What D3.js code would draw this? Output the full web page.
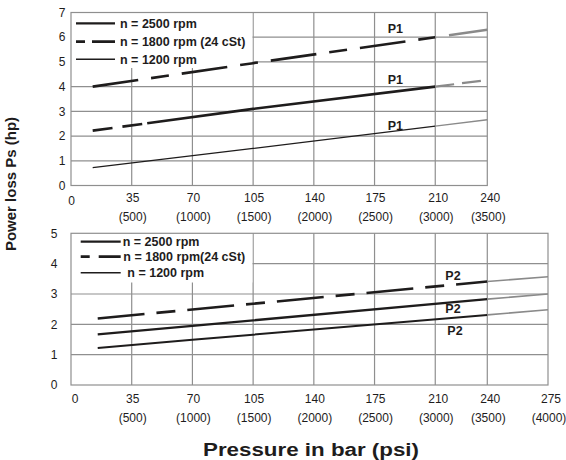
<!DOCTYPE html>
<html><head><meta charset="utf-8">
<script src="https://cdn.jsdelivr.net/npm/d3@7"></script>
<style>
html,body{margin:0;padding:0;background:#fff;}
svg{display:block;font-family:"Liberation Sans",Arial,sans-serif;}
</style></head>
<body><svg id="c" width="566" height="460"></svg>
<script>
// ---------- data ----------
const barTicks = [0, 35, 70, 105, 140, 175, 210, 240, 275];
const psiTicks = ["", "(500)", "(1000)", "(1500)", "(2000)", "(2500)", "(3000)", "(3500)", "(4000)"];
const p1HpTicks = [0, 1, 2, 3, 4, 5, 6, 7];
const p2HpTicks = [0, 1, 2, 3, 4, 5];
const legendTop = ["n = 2500 rpm", "n = 1800 rpm (24 cSt)", "n = 1200 rpm"];
const legendBottom = ["n = 2500 rpm", "n = 1800 rpm(24 cSt)", "n = 1200 rpm"];

// P1 (upper chart): pressure (bar) and power loss (hp)
const p1Bar = [12.5, 105, 210, 240];
const p1Dashed = [4.0, 4.95, 6.0, 6.3];
const p1Thick = [2.22, 3.1, 4.0, 4.27];
const p1Thin = [0.72, 1.5, 2.4, 2.66];
const p1Limit = 210;

// P2 (lower chart)
const p2Bar = [15.4, 70, 240, 275];
const p2Dashed = [2.19, 2.49, 3.41, 3.57];
const p2Thick = [1.67, 1.95, 2.83, 3.0];
const p2Thin = [1.22, 1.49, 2.31, 2.48];
const p2Limit = 240;

// ---------- drawing ----------
const svg = d3.select("#c");
const INK = "#1e1c1c", GRID = "#8f8f8f", GRAY = "#8a8a8a";
const x = d3.scaleLinear().domain([0, 275]).range([71, 548]);

function chart(cfg) {
  const y = d3.scaleLinear().domain([0, cfg.ymax]).range([cfg.bottom, cfg.top]);
  const g = svg.append("g");
  const x0 = x(0), x1 = x(cfg.xmax);
  // grid
  g.selectAll(".vg").data(barTicks.filter(d => d > 0 && d < cfg.xmax)).join("line")
    .attr("x1", d => x(d)).attr("x2", d => x(d)).attr("y1", y(cfg.ymax)).attr("y2", y(0))
    .attr("stroke", GRID).attr("stroke-width", 1.2);
  g.selectAll(".hg").data(cfg.yticks.filter(d => d > 0 && d < cfg.ymax)).join("line")
    .attr("x1", x0).attr("x2", x1).attr("y1", d => y(d)).attr("y2", d => y(d))
    .attr("stroke", GRID).attr("stroke-width", 1.2);
  // legend background
  g.append("rect").attr("x", x0).attr("y", y(cfg.ymax))
    .attr("width", x(105) - 0.7 - x0).attr("height", cfg.legendBottom - y(cfg.ymax))
    .attr("fill", "#fff");
  // frame
  g.append("rect").attr("x", x0).attr("y", y(cfg.ymax)).attr("width", x1 - x0)
    .attr("height", y(0) - y(cfg.ymax)).attr("fill", "none").attr("stroke", GRID).attr("stroke-width", 1.2);

  // y tick labels
  g.selectAll(".yl").data(cfg.yticks).join("text")
    .attr("x", cfg.yLabelX).attr("y", d => y(d)).attr("dy", "0.35em")
    .attr("text-anchor", "middle").attr("font-size", 12).attr("fill", INK).text(d => d);
  // x tick labels
  const xt = barTicks.map((d, i) => ({ d, i })).filter(o => o.d <= cfg.xmax);
  g.selectAll(".xl").data(xt).join("text")
    .attr("x", o => x(o.d) + (o.d === 0 ? cfg.zeroShift : (o.d >= 210 ? 3 : 1)))
    .attr("y", o => cfg.barLabelY + (o.d === 0 ? cfg.zeroDy : 0)).attr("dy", "0.35em")
    .attr("text-anchor", "middle").attr("font-size", 12).attr("fill", INK).text(o => o.d);
  g.selectAll(".pl").data(xt.filter(o => o.d > 0)).join("text")
    .attr("x", o => x(o.d) + 1).attr("y", cfg.psiLabelY).attr("dy", "0.35em")
    .attr("text-anchor", "middle").attr("font-size", 12).attr("fill", INK).text(o => psiTicks[o.i]);

  // curves
  const line = d3.line().x(d => x(d[0])).y(d => y(d[1]));
  cfg.series.forEach(s => {
    const pts = cfg.bars.map((b, i) => [b, s.values[i]]);
    const black = pts.filter(p => p[0] <= cfg.limit);
    const gray = pts.filter(p => p[0] >= cfg.limit);
    const bp = g.append("path").attr("d", line(black)).attr("fill", "none")
      .attr("stroke", INK).attr("stroke-width", s.w).attr("stroke-dasharray", s.dash || null);
    const gp = g.append("path").attr("d", line(gray)).attr("fill", "none")
      .attr("stroke", GRAY).attr("stroke-width", s.gw || s.w).attr("stroke-dasharray", s.gdash || null);
    if (s.continueDash) gp.attr("stroke-dashoffset", bp.node().getTotalLength());
    // label
    const lx = x(cfg.labelBar) + (s.lxOff || 0);
    const ly = y(d3.scaleLinear().domain(cfg.bars).range(s.values)(cfg.labelBar)) + s.lyOff;
    g.append("text").attr("x", lx).attr("y", ly).attr("dy", "0.35em").attr("text-anchor", "middle")
      .attr("font-size", 12.5).attr("font-weight", "bold").attr("fill", INK).text(cfg.label);
  });

  // legend
  const lg = g.selectAll(".lg").data(cfg.legend).join("g");
  lg.append("line").attr("x1", cfg.lgX1).attr("x2", cfg.lgX2)
    .attr("y1", (d, i) => cfg.lgRows[i]).attr("y2", (d, i) => cfg.lgRows[i])
    .attr("stroke", INK).attr("stroke-width", (d, i) => cfg.lgW[i])
    .attr("stroke-dasharray", (d, i) => i === 1 ? cfg.lgDash : null);
  lg.append("text").attr("x", (d, i) => cfg.lgTX[i]).attr("y", (d, i) => cfg.lgRows[i]).attr("dy", "0.36em")
    .attr("font-size", 12.5).attr("font-weight", "bold").attr("fill", INK).text(d => d);
}

chart({
  ymax: 7, top: 12.5, bottom: 185.5, xmax: 240, yticks: p1HpTicks, legendBottom: 68,
  yLabelX: 62, barLabelY: 198, psiLabelY: 217, zeroShift: 0.5, zeroDy: 3,
  bars: p1Bar, limit: p1Limit, label: "P1", labelBar: 187,
  series: [
    { values: p1Dashed, w: 2.6, dash: "46,13,18,13", gdash: "46,13,18,13", continueDash: true, lyOff: -14 },
    { values: p1Thick, w: 2.6, dash: "20,10,20,5,2000", gdash: "19,8", gw: 2.2, lyOff: -12 },
    { values: p1Thin, w: 1.3, lyOff: -5 }
  ],
  legend: legendTop, lgX1: 76, lgX2: 115, lgRows: [23.3, 41.7, 59.3], lgW: [2.2, 2.8, 1.4],
  lgDash: "9,7,30", lgTX: [120, 120, 120]
});

chart({
  ymax: 5, top: 233.3, bottom: 385, xmax: 275, yticks: p2HpTicks, legendBottom: 282.5,
  yLabelX: 54, barLabelY: 399, psiLabelY: 417.5, zeroShift: 4, zeroDy: 0,
  bars: p2Bar, limit: p2Limit, label: "P2", labelBar: 220.2,
  series: [
    { values: p2Dashed, w: 2.6, dash: "47,12,19,12", gw: 1.6, lyOff: -9 },
    { values: p2Thick, w: 2.3, gw: 1.6, lyOff: 6 },
    { values: p2Thin, w: 2.0, gw: 1.6, lyOff: 13, lxOff: 2 }
  ],
  legend: legendBottom, lgX1: 80.7, lgX2: 120.7, lgRows: [241.7, 256.7, 272.7], lgW: [2.2, 2.8, 1.6],
  lgDash: "9,9,22", lgTX: [122.7, 123.3, 127.3]
});

// axis titles
svg.append("text").attr("transform", "translate(16,184) rotate(-90)").attr("text-anchor", "middle")
  .attr("font-size", 15).attr("font-weight", "bold").attr("fill", INK).text("Power loss Ps (hp)");
svg.append("text").attr("x", 311).attr("y", 450).attr("dy", "0.35em").attr("text-anchor", "middle")
  .attr("font-size", 17.5).attr("font-weight", "bold").attr("fill", INK)
  .attr("textLength", 216).attr("lengthAdjust", "spacingAndGlyphs").text("Pressure in bar (psi)");
</script></body></html>
